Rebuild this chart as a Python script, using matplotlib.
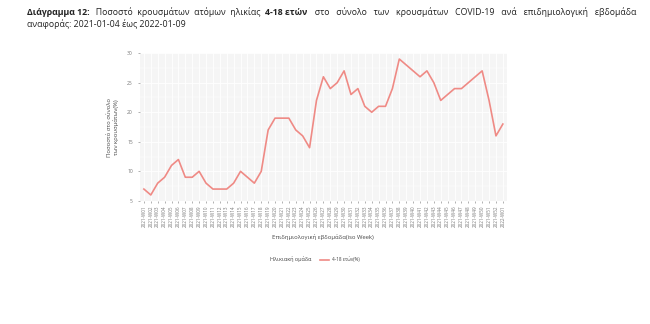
import matplotlib.pyplot as plt
from matplotlib.ticker import MultipleLocator
from matplotlib.offsetbox import HPacker

plt.rcParams['font.family'] = ['Open Sans', 'DejaVu Sans']

# weekly share of COVID-19 cases aged 4-18 (%)
weeks = [f'2021-W{w:02d}' for w in range(1, 53)] + ['2022-W01']
share = [7, 6, 8, 9, 11, 12, 9, 9, 10, 8, 7, 7, 7, 8, 10, 9, 8, 10, 17, 19,
         19, 19, 17, 16, 14, 22, 26, 24, 25, 27, 23, 24, 21, 20, 21, 21, 24,
         29, 28, 27, 26, 27, 25, 22, 23, 24, 24, 25, 26, 27, 22, 16, 18]

line_color = '#EF8A85'
text_color = '#444444'

fig = plt.figure(figsize=(6.5, 3.24), dpi=100)
ax = fig.add_axes([0.215, 0.38, 0.565, 0.456])
ax.set_facecolor('#F5F5F5')

x = list(range(len(weeks)))
ax.plot(x, share, color=line_color, lw=1.2, label='4-18 ετών(%)')

ax.set_xlim(-0.6, len(weeks) - 0.4)
ax.set_ylim(5, 30)
ax.set_xticks(x)
ax.set_xticklabels(weeks, rotation=90, fontsize=3.3, color='#777777')
ax.yaxis.set_major_locator(MultipleLocator(5))
ax.yaxis.set_minor_locator(MultipleLocator(2.5))
ax.tick_params(axis='y', labelsize=3.6, colors='#777777', length=1.5, width=0.4)
ax.tick_params(axis='x', colors='#777777', length=1.5, width=0.4, pad=1.5)
ax.tick_params(which='minor', length=0)

ax.grid(True, which='major', color='white', lw=0.6)
ax.grid(True, which='minor', axis='y', color='white', lw=0.3)
ax.set_axisbelow(True)
for s in ax.spines.values():
    s.set_visible(False)

ax.set_xlabel('Επιδημιολογική εβδομάδα(iso Week)', fontsize=4.2, color=text_color, labelpad=5)
ax.set_ylabel('Ποσοστό στο σύνολο\nτων κρουσμάτων(%)', fontsize=4.2, color=text_color,
              labelpad=6, linespacing=1.1)

# legend with its title sitting to the left of the entry
leg = fig.legend(loc='center', bbox_to_anchor=(0.485, 0.2), frameon=False,
                 title='Ηλικιακή ομάδα', fontsize=3.3, title_fontsize=4.0,
                 handlelength=1.8)
leg.get_title().set_color(text_color)
for t in leg.get_texts():
    t.set_color(text_color)
box = leg._legend_box
box._children = [HPacker(children=box.get_children(), align='center', pad=0, sep=6)]

# title, mixing bold and regular runs on one line
title_parts = [
    ('   Ποσοστό  κρουσμάτων  ατόμων  ηλικίας  ', 'normal'),
    ('4-18 ετών', 'bold'),
    ('   στο   σύνολο   των   κρουσμάτων   COVID-19   ανά   επιδημιολογική   εβδομάδα', 'normal'),
]
prev = fig.text(0.041, 0.948, 'Διάγραμμα 12:', fontsize=6.3, fontweight='bold',
                color='#222222', va='bottom')
for txt, weight in title_parts:
    prev = ax.annotate(txt, xy=(1, 0), xycoords=prev, fontsize=6.3, fontweight=weight,
                       color='#222222', va='bottom', ha='left', annotation_clip=False)
fig.text(0.041, 0.911, 'αναφοράς: 2021-01-04 έως 2022-01-09', fontsize=6.3,
         color='#222222', va='bottom')

fig.savefig('out.png', dpi=100)
